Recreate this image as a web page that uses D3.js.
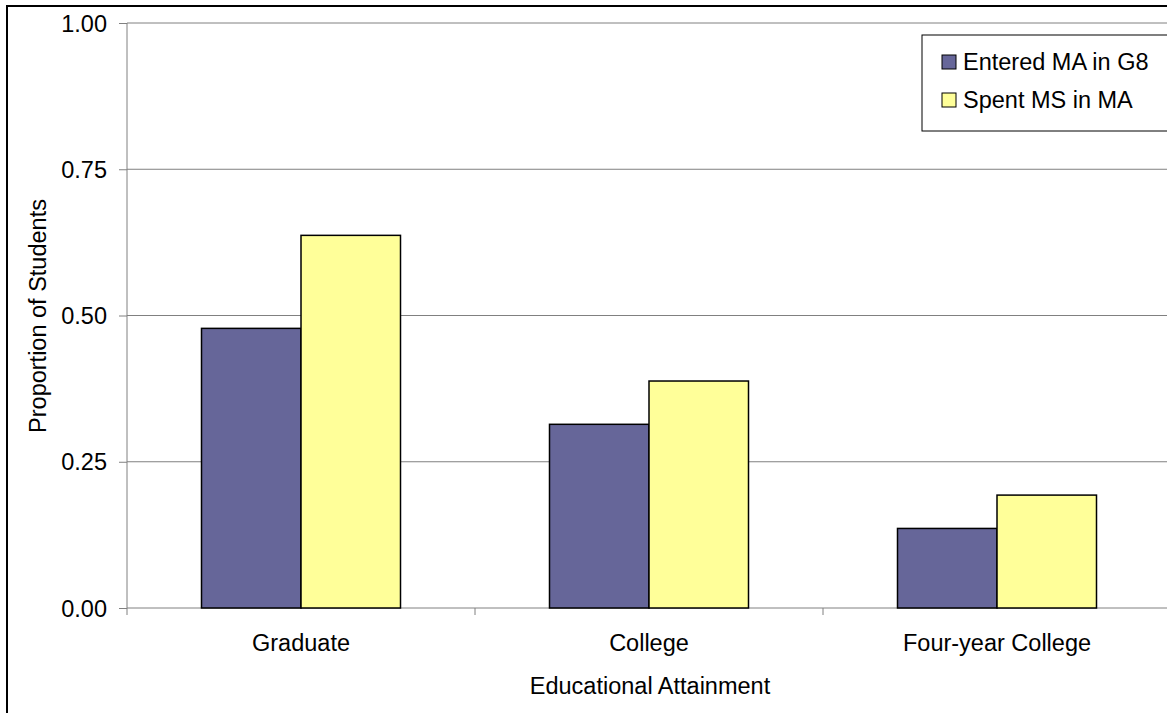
<!DOCTYPE html>
<html>
<head>
<meta charset="utf-8">
<script src="https://cdn.jsdelivr.net/npm/d3@7"></script>
<style>
  body { margin: 0; background: #fff; }
  svg { display: block; font-family: "Liberation Sans", Arial, sans-serif; }
</style>
</head>
<body>
<svg id="drawing_region"></svg>
<script>
const categories = ["Graduate", "College", "Four-year College"];
const seriesNames = ["Entered MA in G8", "Spent MS in MA"];
const enteredMA = [0.478, 0.314, 0.136];
const spentMS = [0.637, 0.388, 0.193];
const yTicks = [0, 0.25, 0.5, 0.75, 1.0];
const colors = ["#666699", "#FFFF99"];

const width = 1167, height = 713;
const margin = {top: 23, left: 127};
const plotW = 1044, plotH = 585;
const fontSize = 23.5;

const svg = d3.select("#drawing_region")
    .attr("width", width)
    .attr("height", height);

// outer chart border
svg.append("rect")
    .attr("x", 7).attr("y", 6)
    .attr("width", 1200).attr("height", 800)
    .attr("fill", "none")
    .attr("stroke", "#000")
    .attr("stroke-width", 2);

const chart = svg.append("g")
    .attr("transform", `translate(${margin.left}, ${margin.top})`);

const xscale = d3.scaleBand()
    .domain(categories)
    .range([0, plotW]);

const xsub = d3.scaleBand()
    .domain(seriesNames)
    .range([0, 199]);

const yscale = d3.scaleLinear()
    .domain([0, 1])
    .range([plotH, 0]);

// gridlines
chart.append("g")
    .selectAll("line")
    .data(yTicks.slice(1))
    .enter()
    .append("line")
    .attr("x1", 0).attr("x2", plotW)
    .attr("y1", d => yscale(d)).attr("y2", d => yscale(d))
    .attr("stroke", "#808080")
    .attr("stroke-width", 1);

// y axis
const yaxis = d3.axisLeft(yscale)
    .tickValues(yTicks)
    .tickFormat(d3.format(".2f"))
    .tickSize(8)
    .tickSizeOuter(0);

const yg = chart.append("g").call(yaxis);
yg.attr("font-size", fontSize).attr("font-family", null);
yg.select(".domain").attr("stroke", "#808080").attr("d", `M0,0V${plotH + 7}`);
yg.selectAll(".tick line").attr("stroke", "#808080");
yg.selectAll(".tick text")
    .attr("fill", "#000")
    .attr("x", -20)
    .attr("dy", "0.35em");

// x axis
const xg = chart.append("g")
    .attr("transform", `translate(0, ${plotH})`);
xg.append("line")
    .attr("x1", 0).attr("x2", plotW)
    .attr("stroke", "#808080");
xg.selectAll(".cat-tick")
    .data(categories)
    .enter()
    .append("line")
    .attr("x1", d => xscale(d) + xscale.bandwidth())
    .attr("x2", d => xscale(d) + xscale.bandwidth())
    .attr("y1", 0).attr("y2", 7)
    .attr("stroke", "#808080");
xg.selectAll("text")
    .data(categories)
    .enter()
    .append("text")
    .attr("x", d => xscale(d) + xscale.bandwidth() / 2)
    .attr("y", 43)
    .attr("text-anchor", "middle")
    .attr("font-size", fontSize)
    .text(d => d);

// bars
const rows = categories.map((c, i) => ({cat: c, vals: [enteredMA[i], spentMS[i]]}));
const groups = chart.selectAll(".grp")
    .data(rows)
    .enter()
    .append("g")
    .attr("transform", d => `translate(${xscale(d.cat) + xscale.bandwidth() / 2 - 99.5}, 0)`);

groups.selectAll("rect")
    .data(d => d.vals.map((v, j) => ({name: seriesNames[j], v: v, color: colors[j]})))
    .enter()
    .append("rect")
    .attr("x", d => xsub(d.name))
    .attr("y", d => yscale(d.v))
    .attr("width", xsub.bandwidth())
    .attr("height", d => plotH - yscale(d.v))
    .attr("fill", d => d.color)
    .attr("stroke", "#000")
    .attr("stroke-width", 1.5);

// axis titles
svg.append("text")
    .attr("x", 650)
    .attr("y", 694)
    .attr("text-anchor", "middle")
    .attr("font-size", fontSize)
    .text("Educational Attainment");

svg.append("text")
    .attr("transform", "translate(46, 316) rotate(-90)")
    .attr("text-anchor", "middle")
    .attr("font-size", fontSize)
    .text("Proportion of Students");

// legend
const legend = svg.append("g");
legend.append("rect")
    .attr("x", 922).attr("y", 35)
    .attr("width", 260).attr("height", 96)
    .attr("fill", "#fff")
    .attr("stroke", "#000")
    .attr("stroke-width", 1);

const items = legend.selectAll(".item")
    .data(seriesNames)
    .enter()
    .append("g")
    .attr("transform", (d, i) => `translate(942, ${62 + i * 38})`);
items.append("rect")
    .attr("y", -7)
    .attr("width", 14).attr("height", 14)
    .attr("fill", (d, i) => colors[i])
    .attr("stroke", "#000")
    .attr("stroke-width", 1);
items.append("text")
    .attr("x", 21)
    .attr("dy", "0.35em")
    .attr("font-size", fontSize)
    .text(d => d);
</script>
</body>
</html>
